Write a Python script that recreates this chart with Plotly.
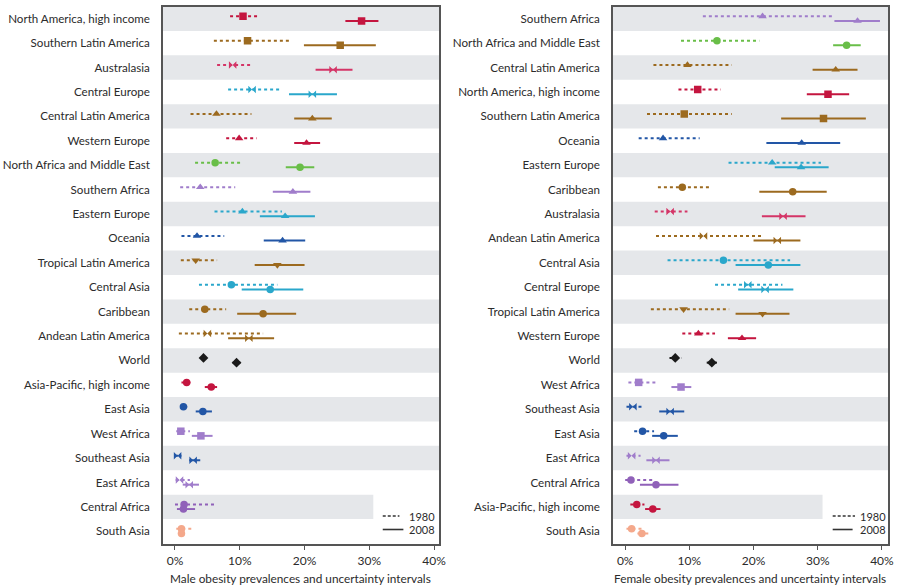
import plotly.graph_objects as go

# ---------------- data: obesity prevalence (%) with uncertainty intervals ----------------
male_regions = [
    "North America, high income", "Southern Latin America", "Australasia", "Central Europe",
    "Central Latin America", "Western Europe", "North Africa and Middle East", "Southern Africa",
    "Eastern Europe", "Oceania", "Tropical Latin America", "Central Asia", "Caribbean",
    "Andean Latin America", "World", "Asia-Pacific, high income", "East Asia", "West Africa",
    "Southeast Asia", "East Africa", "Central Africa", "South Asia",
]
male_1980 = [10.5, 11.2, 8.9, 11.9, 6.4, 9.9, 6.2, 3.9, 10.4, 3.4, 3.2, 8.7, 4.6, 5.0, 4.4, 1.8, 1.3, 0.9, 0.4, 0.7, 1.4, 1.0]
male_1980_lo = [8.5, 6.0, 6.5, 8.2, 2.4, 7.9, 3.1, 0.8, 6.1, 1.0, 0.9, 3.7, 2.2, 0.6, 3.9, 1.0, 0.9, 0.2, 0.0, 0.1, 0.0, 0.2]
male_1980_hi = [13.0, 18.0, 12.0, 16.5, 11.8, 12.6, 10.2, 9.3, 16.5, 7.6, 6.5, 15.8, 7.9, 13.6, 4.9, 2.8, 1.9, 2.3, 1.0, 2.3, 6.3, 2.8]
male_2008 = [28.8, 25.5, 24.4, 21.2, 21.2, 20.3, 19.3, 18.2, 17.0, 16.6, 15.8, 14.7, 13.6, 11.4, 9.5, 5.6, 4.3, 4.0, 2.8, 2.2, 1.3, 1.0]
male_2008_lo = [26.3, 19.9, 21.7, 17.6, 18.4, 18.4, 17.1, 15.1, 13.1, 13.7, 12.3, 10.3, 9.6, 8.2, 8.9, 4.6, 3.2, 2.6, 2.2, 1.2, 0.3, 0.5]
male_2008_hi = [31.4, 31.0, 27.4, 25.0, 24.2, 22.4, 21.5, 20.9, 21.6, 20.1, 20.0, 19.8, 18.7, 15.3, 10.1, 6.5, 5.7, 5.8, 3.9, 3.7, 3.1, 1.5]

female_regions = [
    "Southern Africa", "North Africa and Middle East", "Central Latin America",
    "North America, high income", "Southern Latin America", "Oceania", "Eastern Europe",
    "Caribbean", "Australasia", "Andean Latin America", "Central Asia", "Central Europe",
    "Tropical Latin America", "Western Europe", "World", "West Africa", "Southeast Asia",
    "East Asia", "East Africa", "Central Africa", "Asia-Pacific, high income", "South Asia",
]
female_1980 = [21.4, 14.3, 9.7, 11.3, 9.2, 5.9, 22.9, 8.9, 7.0, 12.2, 15.3, 19.1, 9.1, 11.4, 7.8, 2.1, 1.2, 2.7, 1.0, 0.9, 1.8, 1.0]
female_1980_lo = [12.1, 8.7, 4.4, 8.3, 3.4, 2.1, 16.1, 5.1, 4.6, 4.8, 6.6, 14.0, 4.0, 8.9, 6.9, 0.5, 0.2, 1.4, 0.2, 0.0, 0.8, 0.2]
female_1980_hi = [32.4, 20.9, 16.6, 14.9, 16.6, 11.6, 30.5, 13.5, 9.7, 21.5, 25.7, 24.5, 16.2, 14.0, 8.8, 4.7, 2.6, 4.5, 2.4, 4.6, 3.0, 2.8]
female_2008 = [36.2, 34.5, 32.8, 31.6, 30.9, 27.5, 27.4, 26.1, 24.6, 23.7, 22.3, 21.8, 21.4, 18.2, 13.5, 8.7, 7.0, 6.0, 4.8, 4.8, 4.3, 2.6]
female_2008_lo = [32.6, 32.4, 29.2, 28.3, 24.3, 22.0, 23.3, 20.9, 21.3, 20.0, 17.2, 17.6, 17.2, 16.0, 12.7, 7.2, 5.3, 4.2, 3.3, 2.3, 3.1, 1.9]
female_2008_hi = [39.7, 36.7, 36.2, 34.9, 37.5, 33.5, 31.7, 31.4, 28.1, 27.3, 27.3, 26.2, 25.6, 20.4, 14.3, 10.3, 9.2, 8.2, 6.9, 8.3, 5.5, 3.6]

tick_values = [0, 10, 20, 30, 40]
tick_labels = ["0%", "10%", "20%", "30%", "40%"]

# ---------------- styling per region ----------------
CRIMSON = "#c4153f"
ROSE = "#d43567"
BROWN = "#9c6a1f"
CYAN = "#2aa7cb"
BLUE = "#2256a6"
GREEN = "#69be48"
LAVENDER = "#a07dcb"
PURPLE = "#9061b9"
BLACK = "#1a1a1a"
SALMON = "#f4a88b"

region_style = {
    "North America, high income": (CRIMSON, "square"),
    "Southern Latin America": (BROWN, "square"),
    "Australasia": (ROSE, "bowtie"),
    "Central Europe": (CYAN, "bowtie"),
    "Central Latin America": (BROWN, "triangle-up"),
    "Western Europe": (CRIMSON, "triangle-up"),
    "North Africa and Middle East": (GREEN, "circle"),
    "Southern Africa": (LAVENDER, "triangle-up"),
    "Eastern Europe": (CYAN, "triangle-up"),
    "Oceania": (BLUE, "triangle-up"),
    "Tropical Latin America": (BROWN, "triangle-down"),
    "Central Asia": (CYAN, "circle"),
    "Caribbean": (BROWN, "circle"),
    "Andean Latin America": (BROWN, "bowtie"),
    "World": (BLACK, "diamond"),
    "Asia-Pacific, high income": (CRIMSON, "circle"),
    "East Asia": (BLUE, "circle"),
    "West Africa": (LAVENDER, "square"),
    "Southeast Asia": (BLUE, "bowtie"),
    "East Africa": (LAVENDER, "bowtie"),
    "Central Africa": (PURPLE, "circle"),
    "South Asia": (SALMON, "circle"),
}

OFF_1980 = -0.1
OFF_2008 = 0.09
BAND = "#e5e7ea"
AXIS = "#555555"
TEXT = "#2b2b2b"
FONT = "Lato, 'Open Sans', sans-serif"

fig = go.Figure()


def add_panel(xa, ya, regions, series):
    """Draw the dashed 1980 and solid 2008 intervals with their point estimates."""
    for year_off, dash, (cen, lo, hi) in series:
        for i, name in enumerate(regions):
            color, _ = region_style[name]
            y = i + year_off
            fig.add_trace(go.Scatter(
                x=[lo[i], hi[i]], y=[y, y], mode="lines",
                line=dict(color=color, width=2, dash=dash),
                xaxis=xa, yaxis=ya, hoverinfo="skip", showlegend=False,
            ))
        fig.add_trace(go.Scatter(
            x=cen, y=[i + year_off for i in range(len(regions))], mode="markers",
            marker=dict(
                color=[region_style[n][0] for n in regions],
                symbol=[region_style[n][1] for n in regions],
                size=7.5, line=dict(width=0),
            ),
            xaxis=xa, yaxis=ya, showlegend=False,
        ))


add_panel("x", "y", male_regions, [
    (OFF_1980, "3px,3px", (male_1980, male_1980_lo, male_1980_hi)),
    (OFF_2008, "solid", (male_2008, male_2008_lo, male_2008_hi)),
])
add_panel("x2", "y2", female_regions, [
    (OFF_1980, "3px,3px", (female_1980, female_1980_lo, female_1980_hi)),
    (OFF_2008, "solid", (female_2008, female_2008_lo, female_2008_hi)),
])

# alternating grey bands (the second-last band stops short to leave room for the key)
shapes = []
for xref, yref in (("x domain", "y"), ("x2 domain", "y2")):
    for i in range(0, 22, 2):
        shapes.append(dict(type="rect", xref=xref, yref=yref, x0=0, x1=1 if i != 20 else 0.762,
                           y0=i - 0.5, y1=i + 0.5, fillcolor=BAND, line=dict(width=0), layer="below"))

# year key in each panel
annotations = []
for x0, x1s, x1d, xt in ((0.4267, 0.4497, 0.4453, 0.4540), (0.9283, 0.9505, 0.9532, 0.9560)):
    shapes.append(dict(type="line", xref="paper", yref="paper", x0=x0, x1=x1d,
                       y0=1 - 516 / 585, y1=1 - 516 / 585, line=dict(color="#333", width=1.6, dash="3px,2px")))
    shapes.append(dict(type="line", xref="paper", yref="paper", x0=x0, x1=x1s,
                       y0=1 - 529.5 / 585, y1=1 - 529.5 / 585, line=dict(color="#333", width=1.6)))
    annotations.append(dict(xref="paper", yref="paper", x=xt, y=1 - 516 / 585, text="1980",
                            showarrow=False, xanchor="left", yanchor="middle",
                            font=dict(family=FONT, size=11, color=TEXT)))
    annotations.append(dict(xref="paper", yref="paper", x=xt, y=1 - 529.5 / 585, text="2008",
                            showarrow=False, xanchor="left", yanchor="middle",
                            font=dict(family=FONT, size=11, color=TEXT)))

# axis titles
for xc, txt in ((300 / 897, "Male obesity prevalences and uncertainty intervals"),
                (750 / 897, "Female obesity prevalences and uncertainty intervals")):
    annotations.append(dict(xref="paper", yref="paper", x=xc, y=1 - 578 / 585, text=txt,
                            showarrow=False, xanchor="center", yanchor="middle",
                            font=dict(family=FONT, size=11.8, color=TEXT)))

y_dom = [1 - 543.5 / 585, 1 - 6.5 / 585]


def xaxis_cfg(domain, rng):
    return dict(domain=domain, range=rng, tickvals=tick_values, ticktext=tick_labels,
                showgrid=False, zeroline=False, showline=True, mirror=True,
                linecolor=AXIS, linewidth=1.6, ticks="outside", ticklen=5,
                tickcolor=AXIS, tickwidth=1.3, automargin=False,
                tickfont=dict(family=FONT, size=12, color=TEXT))


def yaxis_cfg(anchor, names):
    return dict(domain=y_dom, anchor=anchor, range=[21.5, -0.5],
                tickvals=list(range(len(names))), ticktext=names,
                showgrid=False, zeroline=False, showline=True, mirror=True,
                linecolor=AXIS, linewidth=1.6, ticks="", automargin=False,
                ticklabelstandoff=9, tickfont=dict(family=FONT, size=11.6, color=TEXT))


fig.update_layout(
    width=897, height=585,
    margin=dict(l=0, r=0, t=0, b=0),
    paper_bgcolor="white", plot_bgcolor="white",
    xaxis=xaxis_cfg([163 / 897, 439 / 897], [-1.85, 40.75]),
    yaxis=yaxis_cfg("x", male_regions),
    xaxis2=dict(xaxis_cfg([613 / 897, 888 / 897], [-1.9, 40.95]), anchor="y2"),
    yaxis2=yaxis_cfg("x2", female_regions),
    shapes=shapes,
    annotations=annotations,
    showlegend=False,
    font=dict(family=FONT),
)

fig.write_html("out.html")
